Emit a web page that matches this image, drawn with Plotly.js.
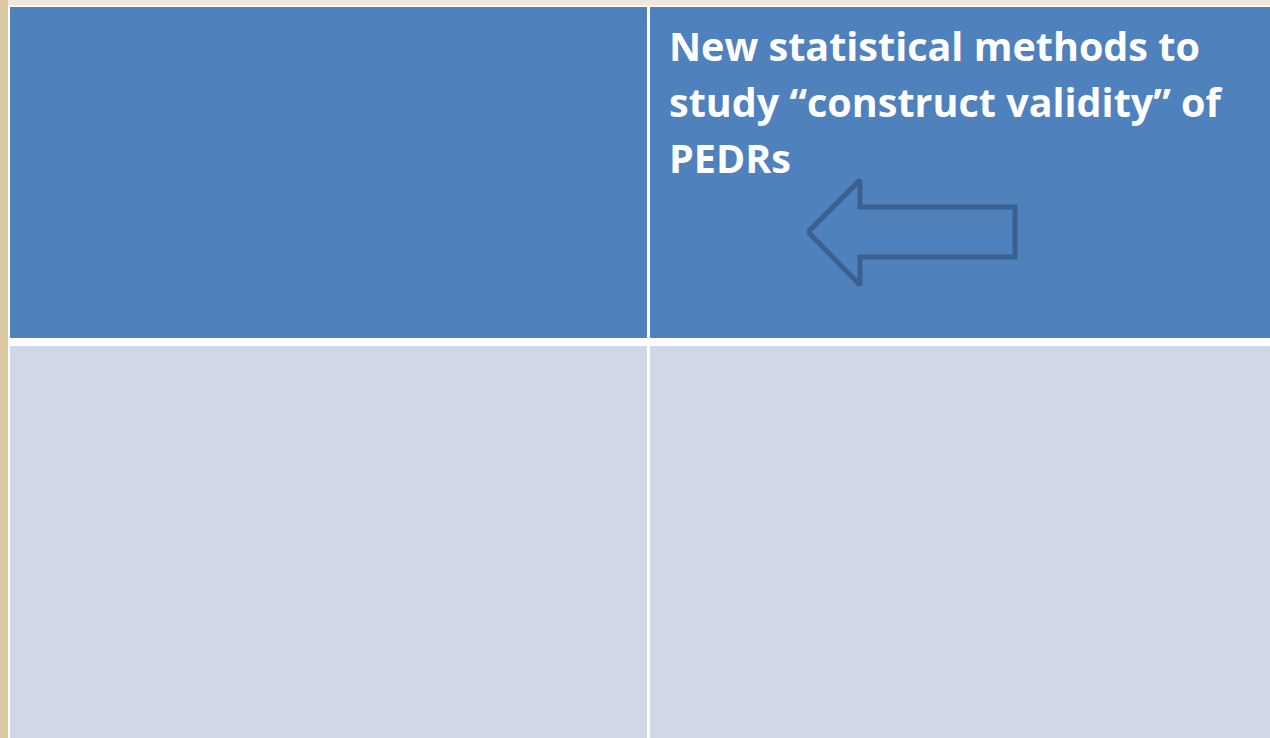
<!DOCTYPE html>
<html>
<head>
<meta charset="utf-8">
<script src="https://cdn.plot.ly/plotly-3.0.1.min.js"></script>
<style>
  html, body { margin: 0; padding: 0; background: #efe8da; }
  #slide { width: 1270px; height: 738px; }
</style>
</head>
<body>
<div id="slide"></div>
<script>
// table grid (slide pixels)
var colEdges = [10, 647, 650, 1270];
var rowEdges = [7, 338, 346, 738];
var rowFills = ["#4f81bd", "#d0d8e8"];
// text of the top-right cell, one entry per line
var cellLines = ["New statistical methods to", "study \u201cconstruct validity\u201d of", "PEDRs"];

// outlined arrow pointing left
var arrowX = [808, 860, 860, 1015, 1015, 860, 860, 808];
var arrowY = [232, 180, 207, 207, 257, 257, 285, 232];

var shapes = [];
// left beige strip
shapes.push({type: "rect", xref: "x", yref: "y", x0: 0, x1: 8, y0: 0, y1: 738,
    fillcolor: "#dac9a3", line: {width: 0}, layer: "below"});
// white table body
shapes.push({type: "rect", xref: "x", yref: "y", x0: 8, x1: 1270, y0: 5.5, y1: 738,
    fillcolor: "#ffffff", line: {width: 0}, layer: "below"});

for (var r = 0; r < 2; r++) {
    for (var c = 0; c < 2; c++) {
        shapes.push({
            type: "rect", xref: "x", yref: "y",
            x0: colEdges[c * 2], x1: colEdges[c * 2 + 1],
            y0: rowEdges[r * 2], y1: rowEdges[r * 2 + 1],
            fillcolor: rowFills[r], line: {width: 0}, layer: "below"
        });
    }
}

var annotations = cellLines.map(function (t, i) {
    return {
        xref: "x", yref: "y", x: 667, y: 17 + i * 56,
        xanchor: "left", yanchor: "top", align: "left",
        text: t, showarrow: false,
        font: {family: "Open Sans", size: 39.5, color: "#ffffff", weight: "bold"}
    };
});

var arrowTrace = {
    x: arrowX, y: arrowY,
    mode: "lines", type: "scatter",
    line: {color: "#3a6090", width: 5},
    hoverinfo: "skip", showlegend: false
};

var layout = {
    width: 1270, height: 738,
    margin: {l: 0, r: 0, t: 0, b: 0},
    paper_bgcolor: "#efe8da",
    plot_bgcolor: "rgba(0,0,0,0)",
    xaxis: {range: [0, 1270], visible: false, fixedrange: true},
    yaxis: {range: [738, 0], visible: false, fixedrange: true},
    shapes: shapes,
    annotations: annotations,
    showlegend: false
};

Plotly.newPlot("slide", [arrowTrace], layout, {displayModeBar: false, staticPlot: true});
</script>
</body>
</html>
